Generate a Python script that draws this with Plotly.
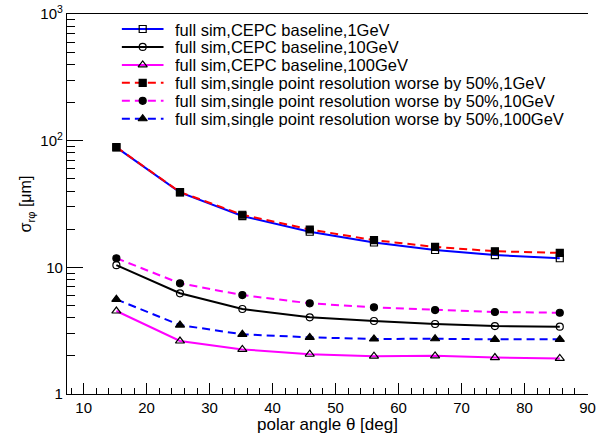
import plotly.graph_objects as go

# ---- data ----
theta = [15.2, 25.3, 35.2, 45.9, 56.1, 65.8, 75.3, 85.6]

base_1gev   = [88.5, 39.1, 25.4, 19.1, 15.7, 13.7, 12.5, 11.8]
base_10gev  = [10.4, 6.24, 4.69, 4.03, 3.77, 3.57, 3.44, 3.40]
base_100gev = [4.52, 2.62, 2.25, 2.06, 1.99, 2.00, 1.94, 1.91]
worse_1gev   = [89.0, 39.3, 26.0, 19.9, 16.4, 14.5, 13.4, 13.0]
worse_10gev  = [11.8, 7.48, 6.04, 5.20, 4.83, 4.60, 4.44, 4.38]
worse_100gev = [5.59, 3.50, 2.96, 2.80, 2.72, 2.73, 2.70, 2.70]

labels = [
    "full sim,CEPC baseline,1GeV",
    "full sim,CEPC baseline,10GeV",
    "full sim,CEPC baseline,100GeV",
    "full sim,single point resolution worse by 50%,1GeV",
    "full sim,single point resolution worse by 50%,10GeV",
    "full sim,single point resolution worse by 50%,100GeV",
]
series = [base_1gev, base_10gev, base_100gev, worse_1gev, worse_10gev, worse_100gev]
colors = ["#0000ff", "#000000", "#ff00ff", "#ff0000", "#ff00ff", "#0000ff"]
dashes = ["solid", "solid", "solid", "8px,5px", "8px,5px", "8px,5px"]
symbols = ["square-open", "circle-open", "triangle-up-open", "square", "circle", "triangle-up"]
msizes = [7, 7, 8, 7, 7, 8]

y_tickvals = [1, 10, 100, 1000]
y_ticktext = ["1", "10", "10<sup>2</sup>", "10<sup>3</sup>"]
y_minor = [m * d for d in (1, 10, 100) for m in range(2, 10)]
x_tickvals = [10, 20, 30, 40, 50, 60, 70, 80, 90]

FONT = "Liberation Sans, Arial, sans-serif"

fig = go.Figure()
for ys, c, d, s, ms, lab in zip(series, colors, dashes, symbols, msizes, labels):
    fig.add_trace(go.Scatter(
        x=theta, y=ys, mode="lines+markers", name=lab, showlegend=False,
        line=dict(color=c, width=2, dash=d),
        marker=dict(symbol=s, size=ms, color="black",
                    line=dict(color="black", width=1.2)),
        cliponaxis=False,
    ))

# ---- legend drawn in pixel space on an overlay axis ----
leg_x0, leg_x1, leg_text_x = 122.7, 165.0, 176.0
leg_y0, leg_dy = 29.0, 17.95
for i, (c, d, s, ms, lab) in enumerate(zip(colors, dashes, symbols, msizes, labels)):
    yy = leg_y0 + i * leg_dy
    fig.add_trace(go.Scatter(
        x=[leg_x0, leg_x1], y=[yy, yy], mode="lines", xaxis="x2", yaxis="y2",
        line=dict(color=c, width=2, dash=d), showlegend=False, hoverinfo="skip"))
    fig.add_trace(go.Scatter(
        x=[(leg_x0 + leg_x1) / 2], y=[yy], mode="markers", xaxis="x2", yaxis="y2",
        marker=dict(symbol=s, size=ms, color="black",
                    line=dict(color="black", width=1.2)),
        showlegend=False, hoverinfo="skip"))
    fig.add_annotation(x=leg_text_x, y=yy, xref="x2", yref="y2", text=lab,
                       showarrow=False, xanchor="left", yanchor="middle",
                       height=17, borderpad=0,
                       font=dict(family=FONT, size=16.5, color="black"))

fig.update_layout(
    width=596, height=434,
    margin=dict(l=67, r=0, t=14, b=40),
    paper_bgcolor="white", plot_bgcolor="white",
    font=dict(family=FONT, size=15, color="black"),
    xaxis=dict(
        range=[7.36, 90.08], tickmode="array", tickvals=x_tickvals,
        ticks="inside", ticklen=11, tickwidth=1, tickcolor="black",
        minor=dict(dtick=2, tick0=0, ticks="inside", ticklen=6, tickwidth=1, tickcolor="black"),
        showline=True, linecolor="black", linewidth=1.3, mirror=True,
        showgrid=False, zeroline=False, ticklabeloverflow="allow",
        tickfont=dict(family=FONT, size=15, color="black"),
        title=dict(text="polar angle θ [deg]", font=dict(family=FONT, size=17), standoff=6),
    ),
    yaxis=dict(
        type="log", range=[0, 3], tickmode="array",
        tickvals=y_tickvals, ticktext=y_ticktext,
        ticks="inside", ticklen=16, tickwidth=1, tickcolor="black",
        minor=dict(tickmode="array", tickvals=y_minor, ticks="inside", ticklen=8,
                   tickwidth=1, tickcolor="black"),
        showline=True, linecolor="black", linewidth=1.3, mirror=False,
        showgrid=False, zeroline=False,
        tickfont=dict(family=FONT, size=15, color="black"),
        title=dict(text="σ<sub>rφ</sub> [μm]", font=dict(family=FONT, size=16), standoff=4),
    ),
    xaxis2=dict(overlaying="x", range=[67, 596], visible=False, anchor="y2"),
    yaxis2=dict(overlaying="y", range=[394, 14], visible=False, anchor="x2"),
)

fig.write_html("out.html")
